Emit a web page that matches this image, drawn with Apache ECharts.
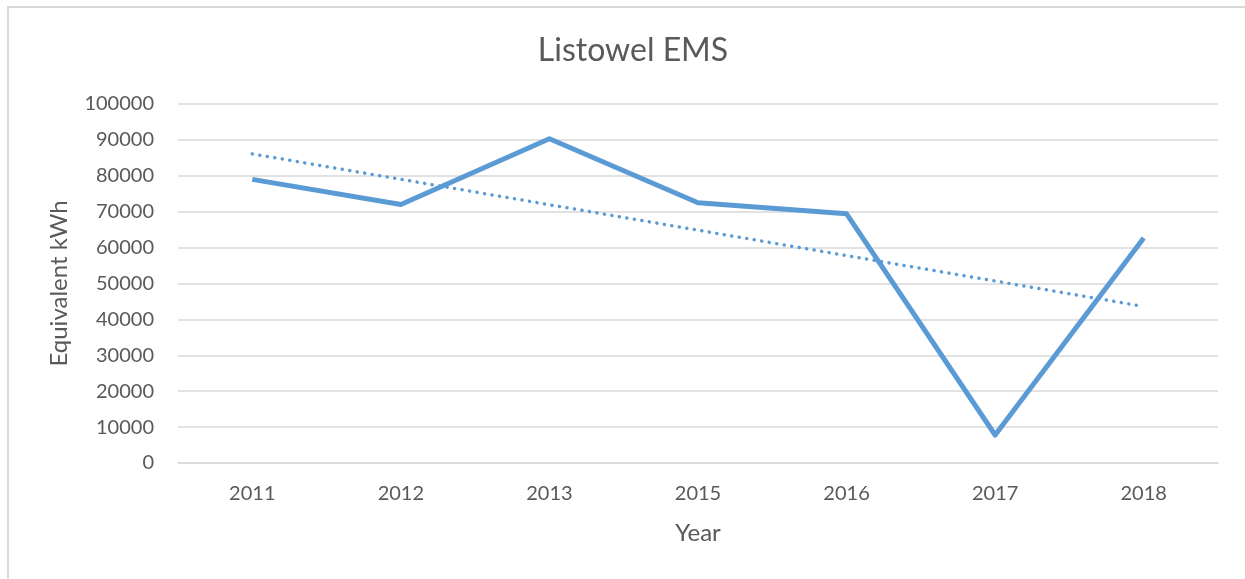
<!DOCTYPE html>
<html>
<head>
<meta charset="utf-8">
<script src="https://cdn.jsdelivr.net/npm/echarts@6/dist/echarts.min.js"></script>
<style>
    html, body { margin: 0; padding: 0; background: #fff; }
    #frame {
        position: absolute; left: 7px; top: 6px; width: 1300px; height: 700px;
        border-left: 2px solid #d9d9d9; border-top: 2px solid #d9d9d9;
    }
    #chart { position: absolute; left: 0; top: 0; width: 1245px; height: 579px; }
</style>
</head>
<body>
<div id="frame"></div>
<div id="chart"></div>
<script>
    // data
    const years = ['2011', '2012', '2013', '2015', '2016', '2017', '2018']
    const kwh = [79000, 72000, 90300, 72500, 69400, 7800, 62700]
    // linear trendline end points (middle left empty, joined straight)
    const trend = [86100, null, null, null, null, null, 43600]

    const myChart = echarts.init(document.getElementById('chart'))
    const font = 'Lato, "Open Sans", sans-serif'
    myChart.setOption({
        animation: false,
        title: {
            text: 'Listowel EMS',
            left: 628,
            top: 30,
            textAlign: 'center',
            textStyle: { fontFamily: font, fontSize: 32, fontWeight: 'normal', color: '#595959' }
        },
        grid: { left: 178, right: 27, top: 104, bottom: 116 },
        xAxis: {
            type: 'category',
            data: years,
            name: 'Year',
            nameLocation: 'middle',
            nameGap: 58,
            nameTextStyle: { fontFamily: font, fontSize: 24, color: '#595959' },
            axisLine: { lineStyle: { color: '#d9d9d9', width: 1.5 } },
            axisTick: { show: false },
            axisLabel: { fontFamily: font, fontSize: 20, color: '#595959', margin: 21 }
        },
        yAxis: {
            type: 'value',
            min: 0,
            max: 100000,
            interval: 10000,
            name: 'Equivalent kWh',
            nameLocation: 'middle',
            nameGap: 107,
            nameTextStyle: { fontFamily: font, fontSize: 24, color: '#595959' },
            axisLine: { show: false },
            axisTick: { show: false },
            axisLabel: { fontFamily: font, fontSize: 20, color: '#595959', margin: 24, formatter: v => String(v) },
            splitLine: { lineStyle: { color: '#d9d9d9', width: 1.5 } }
        },
        series: [{
            name: 'Equivalent kWh',
            type: 'line',
            data: kwh,
            symbol: 'none',
            lineStyle: { color: '#5b9bd5', width: 5, join: 'round' }
        }, {
            name: 'Trend',
            type: 'line',
            data: trend,
            connectNulls: true,
            symbol: 'none',
            lineStyle: { color: '#5b9bd5', width: 3.5, type: [0.1, 7.5], cap: 'round' }
        }]
    })
</script>
</body>
</html>
